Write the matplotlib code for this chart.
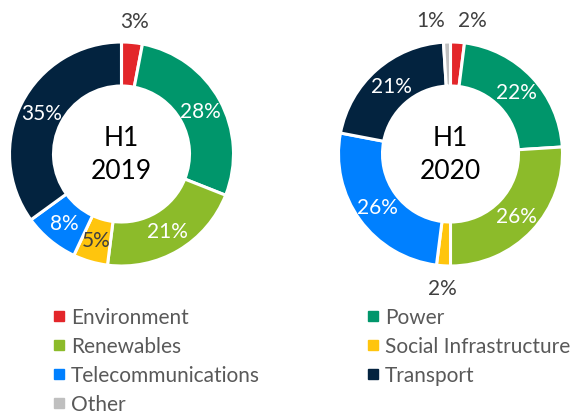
import numpy as np
import matplotlib
matplotlib.use('Agg')
import matplotlib.pyplot as plt
from matplotlib.lines import Line2D

plt.rcParams['font.family'] = ['Lato', 'DejaVu Sans']

SECTORS = ['Environment', 'Power', 'Renewables', 'Social Infrastructure',
           'Telecommunications', 'Transport', 'Other']
COLORS = ['#E3262A', '#00966B', '#8CBB2A', '#FFC50D', '#0080FF', '#03233F', '#BFBFBF']
SHARE_2019 = [3, 28, 21, 5, 8, 35, 0]
SHARE_2020 = [2, 22, 26, 2, 26, 21, 1]
TITLES = ['H1\n2019', 'H1\n2020']

# per-chart label style: 'in' white, 'in_dark' dark inside, 'out' outside
STYLE_2019 = ['out', 'in', 'in', 'in_dark', 'in', 'in', None]
STYLE_2020 = ['out', 'in', 'in', 'out', 'in', 'in', 'out']
NUDGE_2020 = [13, 0, 0, 0, 0, 0, -16]

W, H = 579, 414
fig = plt.figure(figsize=(W / 100, H / 100), dpi=100)
ax = fig.add_axes([0, 0, 1, 1])

R = 112
WIDTH = 44
centers = [(121.5, 155), (450.5, 155)]


def donut(center, shares, title, styles, nudges):
    cx, cy = center
    ax.pie(shares, colors=COLORS, radius=R, center=(cx, -cy), startangle=90,
           counterclock=False, frame=True,
           wedgeprops=dict(width=WIDTH, edgecolor='white', linewidth=2.2))
    total = sum(shares)
    cum = 0
    for v, st, nd in zip(shares, styles, nudges):
        if v == 0 or st is None:
            cum += v
            continue
        mid = 90 - (cum + v / 2) / total * 360
        cum += v
        a = np.deg2rad(mid)
        if st == 'out':
            r = 134
            color = '#404040'
        else:
            r = R - WIDTH / 2
            color = 'white' if st == 'in' else '#404040'
        ax.text(cx + r * np.cos(a) + nd, -cy + r * np.sin(a), f'{v}%',
                ha='center', va='center', fontsize=15, color=color)
    ax.text(cx, -cy, title, ha='center', va='center', fontsize=19,
            color='black', linespacing=1.4)


donut(centers[0], SHARE_2019, TITLES[0], STYLE_2019, [0] * 7)
donut(centers[1], SHARE_2020, TITLES[1], STYLE_2020, NUDGE_2020)

ax.set_xlim(0, W)
ax.set_ylim(-H, 0)
ax.set_aspect('equal')
ax.axis('off')

order = [0, 2, 4, 6, 1, 3, 5]
handles = [Line2D([], [], marker='s', linestyle='', markersize=6.5,
                  markerfacecolor=COLORS[i], markeredgecolor=COLORS[i])
           for i in order]
labels = [SECTORS[i] for i in order]
fig.legend(handles, labels, ncol=2, loc='upper left',
           bbox_to_anchor=(42 / W, 1 - 298 / H), frameon=False,
           fontsize=15, labelcolor='#595959', handlelength=0.6,
           handletextpad=0.3, columnspacing=5.1, labelspacing=0.43,
           borderpad=0)

fig.savefig('out.png', dpi=100)
